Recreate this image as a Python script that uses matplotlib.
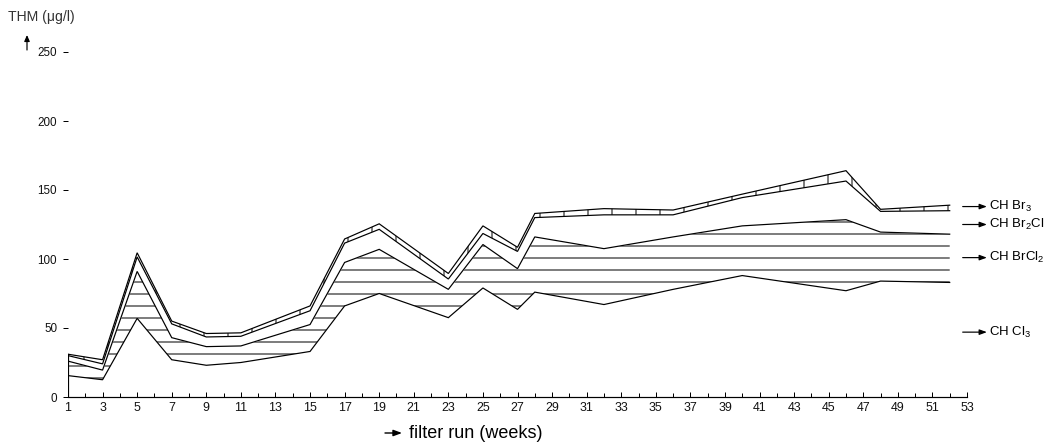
import numpy as np
import matplotlib
matplotlib.use("Agg")
import matplotlib.pyplot as plt

plt.rcParams['font.family'] = ['Liberation Sans', 'DejaVu Sans']
plt.rcParams['mathtext.default'] = 'regular'
plt.rcParams['hatch.linewidth'] = 0.5
plt.rcParams['hatch.color'] = 'black'

# ---- data (µg/l) ----
weeks   = [1, 3, 5, 7, 9, 11, 15, 17, 19, 23, 25, 27, 28, 32, 36, 40, 46, 48, 52]
chcl3   = [15.5, 12.5, 57, 27, 23, 25, 33, 66, 75, 57.5, 79, 63.5, 76, 67, 78, 88, 77, 84, 83]
chbrcl2 = [10.5, 7, 34, 16, 13.5, 12, 19.5, 31.5, 32, 20.5, 31.5, 29.5, 40, 40.5, 38, 36, 51.5, 35.5, 35]
chbr2cl = [4, 4.5, 10.5, 10, 7, 7, 10, 14, 14.5, 7.5, 8, 12.5, 14, 24.5, 16, 20.5, 28, 15, 17]
chbr3   = [1, 3, 3, 2, 2.5, 2.5, 3.5, 3, 4, 4, 5.5, 3, 3, 4.5, 3.5, 2.5, 7.5, 1.5, 4]

series_labels = ['CH Cl$_3$', 'CH BrCl$_2$', 'CH Br$_2$Cl', 'CH Br$_3$']
label_levels = [47, 101, 125, 138]
hatches = [None, '--', None, '|']

xticks_labeled = list(range(1, 54, 2))
yticks = [0, 50, 100, 150, 200, 250]

W, H, DPI = 1047, 443, 144
fig = plt.figure(figsize=(W / DPI, H / DPI), dpi=DPI)
ax = fig.add_axes([68 / W, 46 / H, (967 - 68) / W, (397 - 52) / H])

x = np.array(weeks, dtype=float)
layers = np.array([chcl3, chbrcl2, chbr2cl, chbr3], dtype=float)
cum = np.cumsum(layers, axis=0)
lower = np.vstack([np.zeros_like(x), cum[:-1]])

for lo, hi, h in zip(lower, cum, hatches):
    ax.fill_between(x, lo, hi, facecolor='white', edgecolor='black',
                    hatch=h, linewidth=0)
for c in cum:
    ax.plot(x, c, color='black', lw=0.6, solid_joinstyle='miter')
ax.plot([x[0], x[0]], [0, cum[-1][0]], color='black', lw=0.6)

ax.set_xlim(1, 53)
ax.set_ylim(0, 250)

for s in ['top', 'right', 'left']:
    ax.spines[s].set_visible(False)
ax.spines['bottom'].set_linewidth(0.6)

ax.set_xticks(xticks_labeled)
ax.set_xticklabels([str(v) for v in xticks_labeled], fontsize=6.2, color='#111')
ax.set_xticks(range(1, 54), minor=True)
ax.tick_params(axis='x', which='major', direction='in', length=2.5, width=0.5, pad=2.5)
ax.tick_params(axis='x', which='minor', direction='in', length=1.8, width=0.5)

ax.set_yticks(yticks)
ax.set_yticklabels([str(v) for v in yticks], fontsize=5.8, color='#111')
ax.tick_params(axis='y', direction='out', length=2.5, width=0.5, pad=3)

# right-hand labels with arrows
for lab, lev in zip(series_labels, label_levels):
    ax.annotate('', xy=(54.15, lev), xytext=(52.75, lev), xycoords='data',
                annotation_clip=False,
                arrowprops=dict(arrowstyle='-|>,head_length=0.3,head_width=0.11',
                                color='black', lw=0.6, shrinkA=0, shrinkB=0))
    ax.text(54.3, lev, lab, fontsize=6.6, va='center', ha='left', clip_on=False)

# y-axis title and arrow
fig.text(8 / W, 1 - 17 / H, 'THM (μg/l)', fontsize=7, ha='left', va='center', color='#333')
fig.add_artist(matplotlib.patches.FancyArrowPatch(
    (27 / W, 1 - 54 / H), (27 / W, 1 - 31 / H), transform=fig.transFigure,
    arrowstyle='-|>,head_length=2.5,head_width=1.1', color='black', lw=0.6,
    mutation_scale=1))

# x-axis title with arrow
fig.add_artist(matplotlib.patches.FancyArrowPatch(
    (381 / W, 1 - 433 / H), (406 / W, 1 - 433 / H), transform=fig.transFigure,
    arrowstyle='-|>,head_length=3.5,head_width=1.3', color='black', lw=0.7,
    mutation_scale=1))
fig.text(409 / W, 1 - 433 / H, 'filter run (weeks)', fontsize=9, ha='left', va='center')

fig.savefig('out.png', dpi=DPI)
